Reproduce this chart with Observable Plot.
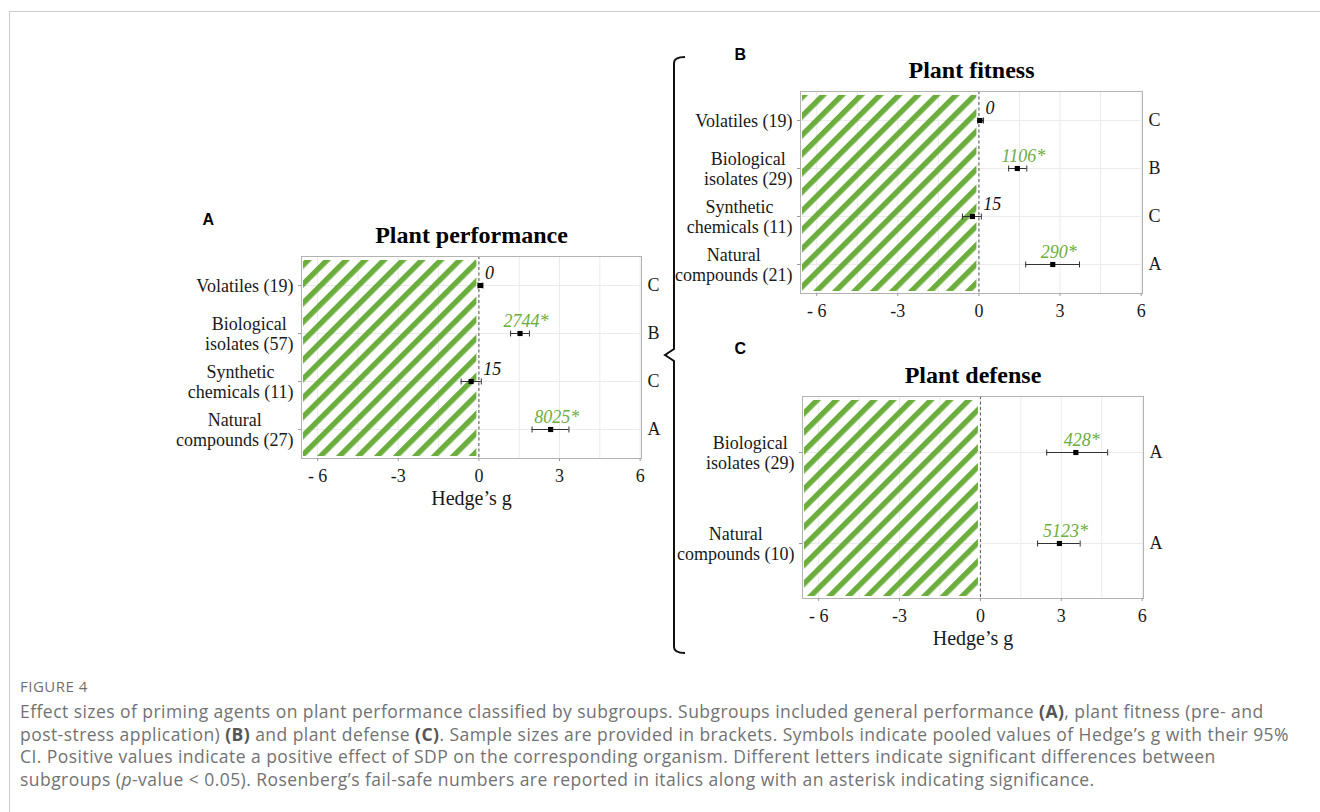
<!DOCTYPE html>
<html><head><meta charset="utf-8">
<script src="https://cdn.jsdelivr.net/npm/d3@7"></script>
<script src="https://cdn.jsdelivr.net/npm/@observablehq/plot@0.6"></script>
<style>
html,body{margin:0;padding:0;background:#fff;}
body{width:1320px;height:812px;position:relative;overflow:hidden;}
.panel{position:absolute;}
#frameTop{position:absolute;left:9px;top:11px;right:0;height:1px;background:#cccccc}
#frameLeft{position:absolute;left:9px;top:11px;width:1px;bottom:0;background:#cccccc}
#figlabel{position:absolute;left:20px;top:676px;font-family:"Open Sans",Lato,sans-serif;font-size:15px;letter-spacing:0.5px;color:#707070;}
#caption{position:absolute;left:20px;top:700px;font-family:"Open Sans",Lato,sans-serif;font-size:17.5px;letter-spacing:0.45px;line-height:22.5px;color:#727272}
#caption div{white-space:nowrap}
#caption b{color:#555}
#bracket{position:absolute;left:0;top:0;pointer-events:none}
</style>
</head><body>
<div id="frameTop"></div><div id="frameLeft"></div>
<div id="pA" class="panel" style="left:160px;top:196px"></div>
<div id="pB" class="panel" style="left:670px;top:36px"></div>
<div id="pC" class="panel" style="left:670px;top:335px"></div>
<svg id="bracket" width="1320" height="812"><path d="M685,57 Q674,57 674,63 L674,349 L665,355 L674,361 L674,647 Q674,653 685,653" fill="none" stroke="#111" stroke-width="2"/></svg>
<div id="figlabel">FIGURE 4</div>
<div id="caption">
<div>Effect sizes of priming agents on plant performance classified by subgroups. Subgroups included general performance <b>(A)</b>, plant fitness (pre- and</div>
<div>post-stress application) <b>(B)</b> and plant defense <b>(C)</b>. Sample sizes are provided in brackets. Symbols indicate pooled values of Hedge’s g with their 95%</div>
<div>CI. Positive values indicate a positive effect of SDP on the corresponding organism. Different letters indicate significant differences between</div>
<div>subgroups (<i>p</i>-value &lt; 0.05). Rosenberg’s fail-safe numbers are reported in italics along with an asterisk indicating significance.</div>
</div>
<script>
// ---- data ----
const xTicks = [-6, -3, 0, 3, 6];
const xTickLabels = ["- 6", "-3", "0", "3", "6"];
const xGrid = [-6, -4.5, -3, -1.5, 0, 1.5, 3, 4.5, 6];
const xDomain = [-6.6, 6.05];

const perfCategories = ["Volatiles (19)", "Biological\nisolates (57)", "Synthetic\nchemicals (11)", "Natural\ncompounds (27)"];
const perfMean = [0.06, 1.53, -0.29, 2.67];
const perfLow = [-0.04, 1.18, -0.66, 1.98];
const perfHigh = [0.15, 1.88, 0.09, 3.35];
const perfFailSafe = ["0", "2744*", "15", "8025*"];
const perfLetters = ["C", "B", "C", "A"];

const fitCategories = ["Volatiles (19)", "Biological\nisolates (29)", "Synthetic\nchemicals (11)", "Natural\ncompounds (21)"];
const fitMean = [0.04, 1.42, -0.24, 2.73];
const fitLow = [-0.05, 1.10, -0.61, 1.73];
const fitHigh = [0.17, 1.77, 0.09, 3.72];
const fitFailSafe = ["0", "1106*", "15", "290*"];
const fitLetters = ["C", "B", "C", "A"];

const defCategories = ["Biological\nisolates (29)", "Natural\ncompounds (10)"];
const defMean = [3.54, 2.93];
const defLow = [2.46, 2.12];
const defHigh = [4.72, 3.70];
const defFailSafe = ["428*", "5123*"];
const defLetters = ["A", "A"];

// ---- helpers ----
const SERIF = "'Liberation Serif','Times New Roman',serif";
const GREEN = "#6cae3e";
const FS = 18;
const ctx = document.createElement("canvas").getContext("2d");
ctx.font = FS + "px 'Liberation Serif'";
const widest = s => Math.max(...s.split("\n").map(l => ctx.measureText(l).width));
const capSymbol = {draw(c) { c.moveTo(0, -3); c.lineTo(0, 3); }};

function panel(o) {
  const rows = o.cats.map((c, i) => ({cat: c, mean: o.mean[i], lo: o.lo[i], hi: o.hi[i],
    fs: o.fs[i], letter: o.letters[i], sig: o.fs[i].includes("*")}));
  const pid = "hatch-" + o.id;
  const catLabels = o.cats.map(c => Plot.text([c], {y: d => d, text: d => d, frameAnchor: "left",
    textAnchor: "middle", lineAnchor: "middle", lineHeight: 1.11, dx: -(8 + widest(c) / 2), fill: "#1a1a1a", fontSize: FS}));
  const marks = [
    Plot.gridX(xGrid, {stroke: "#ebebeb", strokeOpacity: 1}),
    Plot.gridY(o.cats, {stroke: "#ebebeb", strokeOpacity: 1}),
    Plot.rect([0], {x1: xDomain[0], x2: 0, fill: `url(#${pid})`, insetTop: 4, insetBottom: 2, insetLeft: 2, insetRight: 2}),
    Plot.ruleX([0], {stroke: "#555", strokeDasharray: "3,2.5"}),
    Plot.frame({stroke: "#b3b3b3"}),
    Plot.axisX(xTicks, {tickSize: 3, tickPadding: 8, tickFormat: d => xTickLabels[xTicks.indexOf(d)],
      stroke: "#9a9a9a", fill: "#1a1a1a", fontSize: FS, label: null}),
    Plot.axisY(o.cats, {tickSize: 3, tickFormat: () => "", stroke: "#9a9a9a", label: null}),
    ...catLabels,
    Plot.ruleY(rows, {y: "cat", x1: "lo", x2: "hi", stroke: "#333", strokeWidth: 1}),
    Plot.dot(rows, {y: "cat", x: "lo", symbol: capSymbol, r: 3, stroke: "#333", fill: "none", strokeWidth: 1}),
    Plot.dot(rows, {y: "cat", x: "hi", symbol: capSymbol, r: 3, stroke: "#333", fill: "none", strokeWidth: 1}),
    Plot.dot(rows, {y: "cat", x: "mean", symbol: "square", r: 2.9, fill: "#000", stroke: "none"}),
    Plot.text(rows.filter(d => d.sig), {y: "cat", x: "mean", text: "fs", fill: GREEN, fontStyle: "italic",
      fontSize: FS, lineAnchor: "bottom", textAnchor: "middle", dx: 6, dy: -7}),
    Plot.text(rows.filter(d => !d.sig), {y: "cat", x: "hi", text: "fs", fill: "#111", fontStyle: "italic",
      fontSize: FS, lineAnchor: "bottom", textAnchor: "start", dx: 2, dy: -7}),
    Plot.text(rows, {y: "cat", text: "letter", frameAnchor: "right", textAnchor: "start", lineAnchor: "middle", dx: 6, fontSize: FS, fill: "#1a1a1a"}),
    Plot.text([o.title], {text: d => d, frameAnchor: "top", lineAnchor: "bottom", dy: -14, fontWeight: "bold", fontSize: 24, fill: "#000"}),
    Plot.text([o.tag], {text: d => d, frameAnchor: "top-left", textAnchor: "start", lineAnchor: "bottom", dx: o.tagDx, dy: o.tagDy,
      fontFamily: "'Liberation Sans',Arial,sans-serif", fontWeight: "bold", fontSize: 16, fill: "#000"})
  ];
  if (o.xLabel) marks.push(Plot.text([o.xLabel], {text: d => d, frameAnchor: "bottom", lineAnchor: "bottom", dy: 46, fontSize: 20, fill: "#1a1a1a"}));
  const svg = Plot.plot({
    width: o.width, height: o.height,
    marginLeft: o.ml, marginRight: o.mr, marginTop: o.mt, marginBottom: o.mb,
    style: {fontFamily: SERIF, fontSize: FS + "px", background: "transparent", overflow: "visible"},
    x: {domain: xDomain, axis: null},
    y: {type: "point", domain: o.cats, padding: 0.6, axis: null},
    marks
  });
  const ns = "http://www.w3.org/2000/svg";
  const defs = document.createElementNS(ns, "defs");
  defs.innerHTML = `<pattern id="${pid}" patternUnits="userSpaceOnUse" width="13.4" height="13.4" patternTransform="rotate(45)"><rect x="0" y="0" width="5.4" height="13.4" fill="${GREEN}"/></pattern>`;
  svg.insertBefore(defs, svg.firstChild);
  document.getElementById(o.el).appendChild(svg);
}

panel({el: "pA", id: "a", cats: perfCategories, mean: perfMean, lo: perfLow, hi: perfHigh, fs: perfFailSafe, letters: perfLetters,
  title: "Plant performance", tag: "A", tagDx: -99, tagDy: -32, xLabel: "Hedge’s g",
  width: 530, height: 318, ml: 141, mr: 49, mt: 60, mb: 56});
panel({el: "pB", id: "b", cats: fitCategories, mean: fitMean, lo: fitLow, hi: fitHigh, fs: fitFailSafe, letters: fitLetters,
  title: "Plant fitness", tag: "B", tagDx: -66, tagDy: -32, xLabel: null,
  width: 520, height: 293, ml: 130, mr: 48, mt: 55, mb: 36});
panel({el: "pC", id: "c", cats: defCategories, mean: defMean, lo: defLow, hi: defHigh, fs: defFailSafe, letters: defLetters,
  title: "Plant defense", tag: "C", tagDx: -68, tagDy: -43, xLabel: "Hedge’s g",
  width: 520, height: 319, ml: 132, mr: 47, mt: 61, mb: 56});
</script>
</body></html>
